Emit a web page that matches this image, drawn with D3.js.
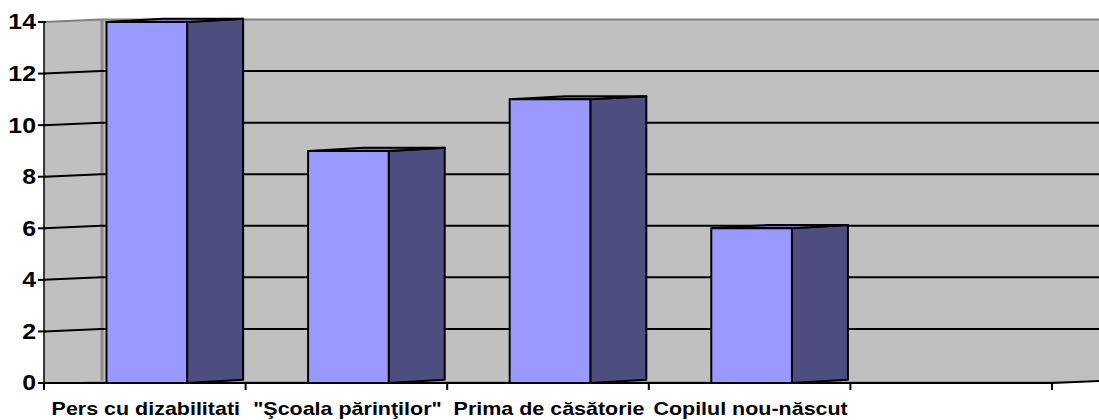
<!DOCTYPE html>
<html>
<head>
<meta charset="utf-8">
<script src="https://cdn.jsdelivr.net/npm/d3@7"></script>
<style>
  html, body { margin: 0; padding: 0; background: #fff; }
  svg { display: block; }
  text { font-family: Arial, "Liberation Sans", sans-serif; font-weight: bold; fill: #000; }
</style>
</head>
<body>
<svg id="chart" width="1099" height="420"></svg>
<script>
const categories = ["Pers cu dizabilitati", "\"Şcoala părinţilor\"", "Prima de căsătorie", "Copilul nou-născut", ""];
const values = [14, 9, 11, 6, null];
const yTicks = [0, 2, 4, 6, 8, 10, 12, 14];

const W = 1099, H = 420;
const svg = d3.select("#chart");

const x = d3.scaleBand().domain(categories).range([44, 1052]).paddingInner(0).paddingOuter(0);
const y = d3.scaleLinear().domain([0, 14]).range([383, 22]);

// depth of the 3D box
const DX = 57, DY = -2.5;
const BDX = 56, BDY = -3.2, BOFF = 2;
const STRETCH = 1.13;

const y0 = y(0), yTop = y(14);
const xL = x.range()[0], xR = x.range()[1];

const line = d3.line();

// left side wall
svg.append("path")
  .attr("d", line([[xL, yTop], [xL + DX, yTop + DY], [xL + DX, y0 + DY], [xL, y0]]) + "Z")
  .attr("fill", "#c0c0c0");
// back wall
svg.append("path")
  .attr("d", line([[xL + DX, yTop + DY], [xR + DX, yTop + DY], [xR + DX, y0 + DY], [xL + DX, y0 + DY]]) + "Z")
  .attr("fill", "#c0c0c0");
// floor
svg.append("path")
  .attr("d", line([[xL, y0], [xR, y0], [xR + DX, y0 + DY], [xL + DX, y0 + DY]]) + "Z")
  .attr("fill", "#a0a0a0");

// wall top edges and corner
svg.append("path")
  .attr("d", line([[xL, yTop], [xL + DX, yTop + DY], [xR + DX, yTop + DY]]))
  .attr("fill", "none").attr("stroke", "#808080").attr("stroke-width", 2);
svg.append("line")
  .attr("x1", xL + DX + 1).attr("x2", xL + DX + 1)
  .attr("y1", yTop + DY).attr("y2", y0 + DY)
  .attr("stroke", "#8a8a8a").attr("stroke-width", 3);

// gridlines
yTicks.filter(t => t > 0 && t < 14).forEach(t => {
  svg.append("path")
    .attr("d", line([[xL, y(t)], [xL + DX, y(t) + DY], [xR + DX, y(t) + DY]]))
    .attr("fill", "none").attr("stroke", "#000").attr("stroke-width", 2);
});

// floor front edge and right edge
svg.append("path")
  .attr("d", line([[xL, y0], [xR, y0], [xR + DX, y0 + DY]]))
  .attr("fill", "none").attr("stroke", "#000").attr("stroke-width", 2);

// bars
const bw = x.bandwidth() * 0.4;
categories.forEach((c, i) => {
  const v = values[i];
  if (v == null) return;
  const cx = x(c) + x.bandwidth() / 2 + BOFF;
  const x0 = cx - bw / 2, x1 = cx + bw / 2;
  const yv = y(v);
  const g = svg.append("g")
    .attr("stroke", "#000").attr("stroke-width", 2).attr("stroke-linejoin", "round");
  g.append("path")
    .attr("d", line([[x1, yv], [x1 + BDX, yv + BDY], [x1 + BDX, y0 + BDY], [x1, y0]]) + "Z")
    .attr("fill", "#4d4d80");
  g.append("path")
    .attr("d", line([[x0, yv], [x0 + BDX, yv + BDY], [x1 + BDX, yv + BDY], [x1, yv]]) + "Z")
    .attr("fill", "#7373bf");
  g.append("path")
    .attr("d", line([[x0, yv], [x1, yv], [x1, y0], [x0, y0]]) + "Z")
    .attr("fill", "#9999ff");
});

// y axis
svg.append("line")
  .attr("x1", xL).attr("x2", xL).attr("y1", yTop).attr("y2", y0)
  .attr("stroke", "#000").attr("stroke-width", 1.5);
yTicks.forEach(t => {
  svg.append("line")
    .attr("x1", xL - 6).attr("x2", xL + 2).attr("y1", y(t)).attr("y2", y(t))
    .attr("stroke", "#000").attr("stroke-width", 2);
  svg.append("text")
    .attr("transform", `translate(36,${y(t)}) scale(${STRETCH},1)`)
    .attr("text-anchor", "end").attr("dominant-baseline", "central")
    .attr("font-size", 22)
    .text(t);
});

// x axis ticks (category boundaries)
const bounds = categories.map(c => x(c)).concat([xR]);
bounds.forEach(b => {
  svg.append("line")
    .attr("x1", b).attr("x2", b).attr("y1", y0).attr("y2", y0 + 7)
    .attr("stroke", "#000").attr("stroke-width", 2);
});
categories.forEach(c => {
  if (!c) return;
  svg.append("text")
    .attr("transform", `translate(${x(c) + x.bandwidth() / 2 + 1},415) scale(${STRETCH},1)`)
    .attr("text-anchor", "middle")
    .attr("font-size", 19)
    .text(c);
});
</script>
</body>
</html>
